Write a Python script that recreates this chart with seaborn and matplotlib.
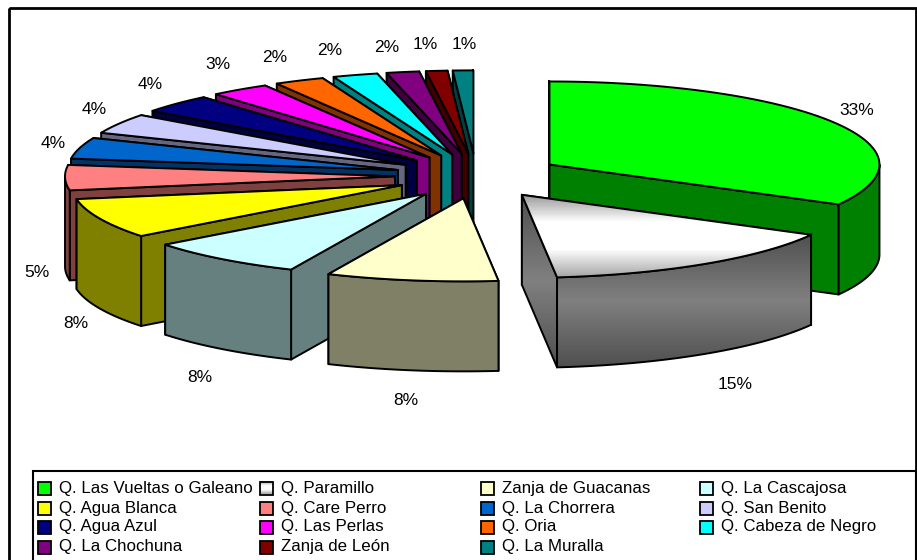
import numpy as np
import seaborn as sns
import matplotlib
matplotlib.use("Agg")
import matplotlib.pyplot as plt
from matplotlib.patches import Polygon, Rectangle
from matplotlib.colors import LinearSegmentedColormap

names = ["Q. Las Vueltas o Galeano", "Q. Paramillo", "Zanja de Guacanas", "Q. La Cascajosa",
         "Q. Agua Blanca", "Q. Care Perro", "Q. La Chorrera", "Q. San Benito",
         "Q. Agua Azul", "Q. Las Perlas", "Q. Oria", "Q. Cabeza de Negro",
         "Q. La Chochuna", "Zanja de León", "Q. La Muralla"]
values = [33, 15.3, 8.4, 7.8, 7.8, 4.9, 4.1, 3.9, 3.6, 2.9, 2.45, 2.2, 1.6, 1.05, 1.0]
pct_labels = ["33%", "15%", "8%", "8%", "8%", "5%", "4%", "4%", "4%", "3%", "2%", "2%", "2%", "1%", "1%"]
colors = ["#00FF00", "#FFFFFF", "#FFFFCC", "#CCFFFF", "#FFFF00", "#FF8080", "#0066CC", "#CCCCFF",
          "#000080", "#FF00FF", "#FF6600", "#00FFFF", "#800080", "#800000", "#008080"]

# pie geometry in pixels
cx, cy = 472, 176
rx, ry = 330, 83
depth = 90
explode = 90
# left half of the pie sits a bit closer in
cx_left, explode_left = 476, 81
GRAY_SLICE = 1
# label tweaks after the radial placement
label_dx = [0, 15, -2, -6, 1, -1, 0, -1, -7, -6, -13, -18, -11, -9, 2]
label_dy = [1, 5, 1, 4, 2, 2, 1, -2, -2, -4, 0, 0, 1, 0, 0]

sns.set_theme(style="white")
plt.rcParams["font.family"] = ["Liberation Sans", "DejaVu Sans"]
palette = sns.color_palette(colors)

fig = plt.figure(figsize=(9.17, 5.6), dpi=100, facecolor="white")
ax = fig.add_axes([0, 0, 1, 1])

top_cmap = LinearSegmentedColormap.from_list("top", ["#999999", "#FFFFFF", "#FFFFFF", "#A8A8A8"])
side_cmap = LinearSegmentedColormap.from_list("side", ["#505050", "#808080", "#505050"])

z = [10]


def face(pts, color, cmap=None):
    z[0] += 1
    pts = np.array(pts)
    if cmap is None:
        ax.add_patch(Polygon(pts, closed=True, fc=color, ec="black", lw=1.4, joinstyle="round", zorder=z[0]))
        return
    poly = Polygon(pts, closed=True, fc="none", ec="black", lw=1.4, zorder=z[0] + 0.5)
    ax.add_patch(poly)
    im = ax.imshow(np.linspace(0, 1, 64).reshape(-1, 1), cmap=cmap, aspect="auto", zorder=z[0],
                   extent=[pts[:, 0].min(), pts[:, 0].max(), pts[:, 1].max(), pts[:, 1].min()])
    clip = Polygon(pts, closed=True, transform=ax.transData)
    im.set_clip_path(clip)


def rim(t):
    return np.array([np.sin(t) * rx, -np.cos(t) * ry])


def down(pts):
    return [(p[0], p[1] + depth) for p in pts]


fracs = np.array(values) / sum(values)
ends = np.cumsum(fracs) * 2 * np.pi
starts = ends - fracs * 2 * np.pi
mids = (starts + ends) / 2
ax_x = np.where(np.sin(mids) > 0, cx + explode * np.sin(mids), cx_left + explode_left * np.sin(mids))
apex = np.column_stack([ax_x, cy - explode * np.cos(mids) * ry / rx])

# back slices first
for i in np.argsort(apex[:, 1]):
    a = apex[i]
    t0, t1 = starts[i], ends[i]
    base = palette[i]
    dark = tuple(c * 0.5 for c in base)
    ts = np.linspace(t0, t1, 60)
    arc = [a + rim(t) for t in ts]
    for t in sorted([t0, t1], key=lambda v: rim(v)[1]):
        edge = [a, a + rim(t)]
        face(edge + down(edge)[::-1], dark, side_cmap if i == GRAY_SLICE else None)
    lo, hi = max(t0, np.pi / 2), min(t1, 1.5 * np.pi)
    if hi > lo:
        front = [a + rim(t) for t in np.linspace(lo, hi, 60)]
        face(front + down(front)[::-1], dark, side_cmap if i == GRAY_SLICE else None)
    face([a] + arc, base, top_cmap if i == GRAY_SLICE else None)

# percent labels
for i, lab in enumerate(pct_labels):
    a = apex[i]
    lx = a[0] + (rx + 27) * np.sin(mids[i]) + label_dx[i]
    ly = a[1] - (ry + 28) * np.cos(mids[i]) + 2 + label_dy[i]
    if np.cos(mids[i]) < 0:
        ly += depth
    ax.text(lx, ly, lab, ha="center", va="center", fontsize=12.5, color="black", zorder=100)

# legend box and outer frame
ax.add_patch(Rectangle((8.5, 8), 907, 570, fc="none", ec="black", lw=2, zorder=1))
ax.add_patch(Rectangle((32.5, 471), 883, 100, fc="white", ec="black", lw=1.5, zorder=2))
col_x = [38, 260, 481, 700]
row_y = [488, 508, 527, 547]
for i, n in enumerate(names):
    x = col_x[i % 4]
    y = row_y[i // 4]
    if i == GRAY_SLICE:
        im = ax.imshow(np.linspace(0, 1, 32).reshape(-1, 1), cmap=top_cmap, aspect="auto", zorder=3,
                       extent=[x, x + 13, y + 6.5, y - 6.5])
        ax.add_patch(Rectangle((x, y - 6.5), 13, 13, fc="none", ec="black", lw=1.3, zorder=4))
    else:
        ax.add_patch(Rectangle((x, y - 6.5), 13, 13, fc=palette[i], ec="black", lw=1.3, zorder=3))
    ax.text(x + 21, y, n, ha="left", va="center", fontsize=12.15, color="black", zorder=5)

ax.set_xlim(0, 917)
ax.set_ylim(560, 0)
ax.axis("off")
fig.savefig("out.png", dpi=100, facecolor="white")
